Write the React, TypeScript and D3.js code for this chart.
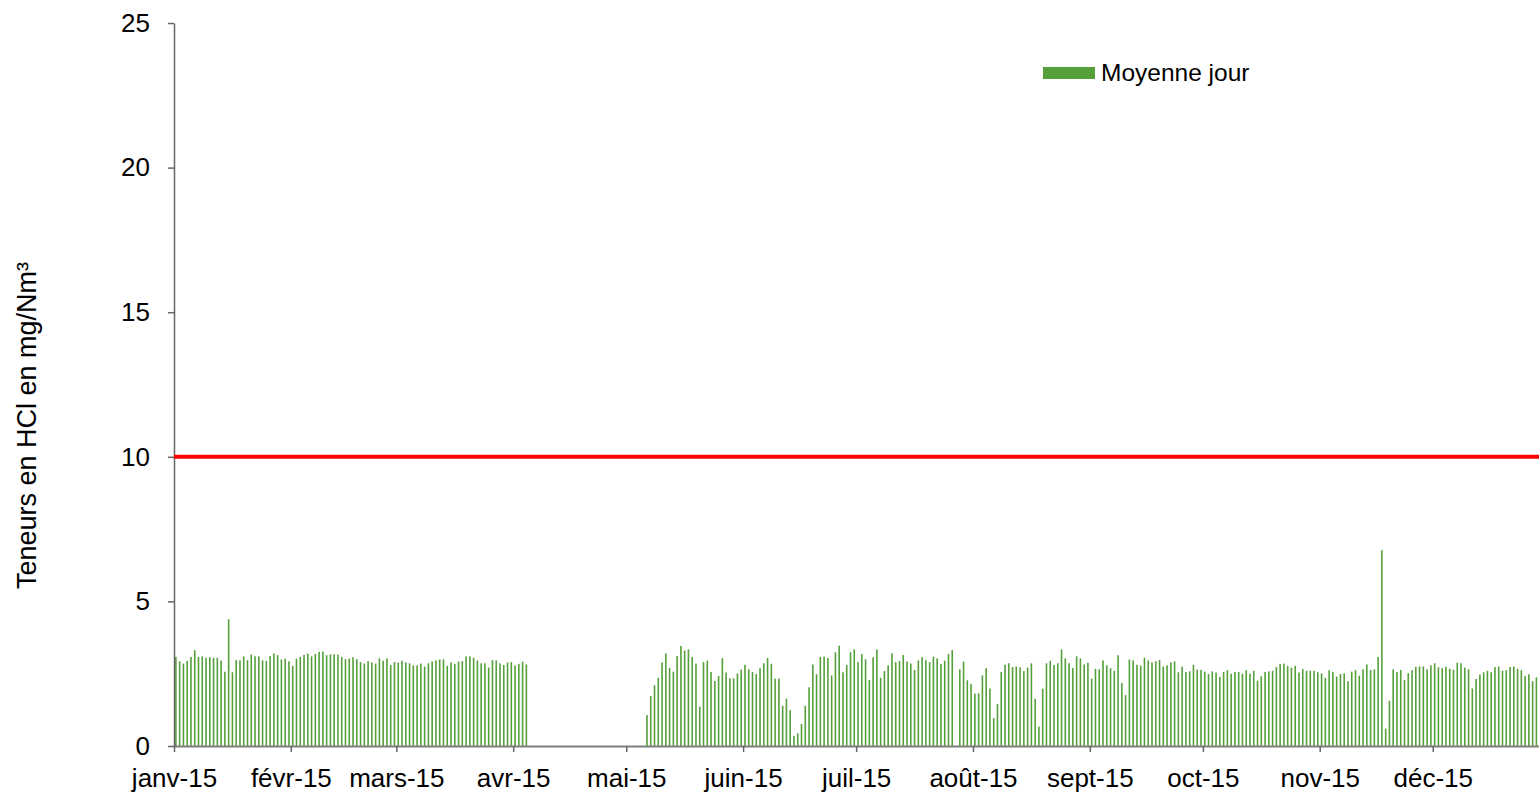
import { useRef, useEffect } from 'react';
import * as d3 from 'd3';

const WIDTH = 1539;
const HEIGHT = 792;
const MARGIN = { top: 23, left: 174, bottom: 46 };
const FONT = "Arial, 'Liberation Sans', sans-serif";
const BAR_COLOR = '#55a03a';

// daily averages (mg/Nm3), one value per day, null = no measure
const jan = [3.08, 2.93, 2.85, 2.94, 3.08, 3.31, 3.08, 3.10, 3.05, 3.07, 3.05, 3.05, 2.96, 2.57, 4.38, 2.55,
  2.97, 2.96, 3.10, 2.97, 3.16, 3.10, 3.10, 2.96, 2.94, 3.11, 3.20, 3.14, 2.99, 3.02, 2.93];
const feb = [2.77, 3.02, 3.08, 3.15, 3.19, 3.10, 3.18, 3.26, 3.27, 3.14, 3.17, 3.17, 3.16, 3.08, 3.00, 3.02,
  3.07, 3.00, 2.90, 2.85, 2.93, 2.89, 2.85, 3.03, 2.95, 3.03, 2.80, 2.90];
const mar = [2.88, 2.95, 2.89, 2.86, 2.79, 2.79, 2.85, 2.75, 2.86, 2.92, 2.96, 2.99, 3.00, 2.77, 2.89, 2.84,
  2.92, 2.93, 3.10, 3.10, 3.05, 2.96, 2.86, 2.86, 2.71, 2.97, 2.96, 2.86, 2.80, 2.89, 2.90];
const apr = [2.79, 2.84, 2.92, 2.82, null, null, null, null, null, null, null, null, null, null, null, null,
  null, null, null, null, null, null, null, null, null, null, null, null, null, null];
const may = [null, null, null, null, null, 1.07, 1.73, 2.10, 2.36, 2.89, 3.20, 2.70, 2.57, 3.11, 3.46, 3.30,
  3.34, 3.08, 2.85, 1.36, 2.90, 2.95, 2.56, 2.25, 2.42, 3.04, 2.54, 2.34, 2.34, 2.51, 2.64];
const jun = [2.81, 2.65, 2.56, 2.49, 2.69, 2.86, 3.04, 2.84, 2.33, 2.33, 1.39, 1.64, 1.24, 0.35, 0.44, 0.76,
  1.39, 2.03, 2.82, 2.48, 3.08, 3.09, 3.04, 2.44, 3.24, 3.47, 2.55, 2.80, 3.24, 3.34];
const jul = [2.90, 3.18, 3.00, 2.28, 3.07, 3.34, 2.36, 2.59, 2.79, 3.20, 2.90, 2.94, 3.15, 2.92, 2.85, 2.63,
  2.96, 3.07, 2.97, 2.90, 3.09, 3.03, 2.84, 2.95, 3.18, 3.32, null, 2.65, 2.92, 2.27, 2.14];
const aug = [1.81, 1.82, 2.44, 2.69, 1.99, 0.96, 1.45, 2.56, 2.81, 2.86, 2.73, 2.75, 2.72, 2.59, 2.71, 2.86,
  1.63, 0.67, 1.98, 2.86, 2.95, 2.80, 2.86, 3.34, 3.03, 2.86, 2.70, 3.10, 3.03, 2.82, 2.88];
const sep = [2.33, 2.67, 2.65, 2.96, 2.79, 2.69, 2.60, 3.14, 2.18, 1.76, 2.99, 2.96, 2.81, 2.78, 3.05, 2.96,
  2.89, 2.93, 2.97, 2.75, 2.79, 2.89, 2.93, 2.55, 2.74, 2.56, 2.58, 2.81, 2.64, 2.63];
const oct = [2.57, 2.49, 2.58, 2.54, 2.39, 2.56, 2.62, 2.50, 2.56, 2.56, 2.50, 2.62, 2.50, 2.60, 2.26, 2.41,
  2.56, 2.58, 2.60, 2.73, 2.84, 2.85, 2.77, 2.71, 2.77, 2.54, 2.66, 2.60, 2.60, 2.60, 2.55];
const nov = [2.51, 2.36, 2.62, 2.56, 2.40, 2.49, 2.51, 2.24, 2.57, 2.62, 2.43, 2.65, 2.82, 2.63, 2.65, 3.08,
  6.77, 0.60, 1.56, 2.65, 2.56, 2.63, 2.28, 2.52, 2.62, 2.74, 2.75, 2.75, 2.65, 2.79];
const dec = [2.86, 2.72, 2.69, 2.74, 2.67, 2.64, 2.88, 2.86, 2.71, 2.65, 1.99, 2.32, 2.47, 2.55, 2.60, 2.55,
  2.73, 2.75, 2.60, 2.62, 2.73, 2.75, 2.67, 2.62, 2.42, 2.48, 2.24, 2.37];

const months = [jan, feb, mar, apr, may, jun, jul, aug, sep, oct, nov, dec];
const monthLabels = ['janv-15', 'févr-15', 'mars-15', 'avr-15', 'mai-15', 'juin-15',
  'juil-15', 'août-15', 'sept-15', 'oct-15', 'nov-15', 'déc-15'];
const yTicks = [0, 5, 10, 15, 20, 25];
const LIMIT = 10;
const seriesName = 'Moyenne jour';
const yTitle = 'Teneurs en HCl en mg/Nm³';

export default function App() {
  const svgRef = useRef(null);

  useEffect(() => {
    const svg = d3.select(svgRef.current);
    svg.selectAll('*').remove();

    const data = months.flatMap((vals, m) =>
      vals.map((v, d) => ({ date: new Date(2015, m, d + 1), value: v })))
      .filter(d => d.value != null);

    // the plot runs a little past the right edge of the picture
    const x = d3.scaleTime()
      .domain([new Date(2015, 0, 1), new Date(2016, 0, 1)])
      .range([MARGIN.left, 1549.6]);
    const y = d3.scaleLinear().domain([0, 25]).range([HEIGHT - MARGIN.bottom, MARGIN.top]);
    const dayW = x(new Date(2015, 0, 2)) - x(new Date(2015, 0, 1));

    // bars
    svg.append('g').selectAll('rect').data(data).join('rect')
      .attr('x', d => x(d.date) + dayW / 2 - 0.8)
      .attr('y', d => y(d.value))
      .attr('width', 1.6)
      .attr('height', d => y(0) - y(d.value))
      .attr('fill', BAR_COLOR);

    // y axis
    const ya = svg.append('g').attr('transform', `translate(${MARGIN.left},0)`)
      .call(d3.axisLeft(y).tickValues(yTicks).tickSize(6).tickSizeOuter(0).tickPadding(18));
    ya.select('.domain').attr('stroke', '#666').attr('stroke-width', 1.5);
    ya.selectAll('line').attr('stroke', '#666').attr('stroke-width', 1.5);
    ya.selectAll('text').attr('font-size', 26).attr('font-family', FONT).attr('fill', '#000');

    // x axis
    const monthStarts = monthLabels.map((_, i) => new Date(2015, i, 1));
    const xa = svg.append('g').attr('transform', `translate(0,${y(0)})`)
      .call(d3.axisBottom(x).tickValues(monthStarts).tickSize(6).tickSizeOuter(0)
        .tickFormat((_, i) => monthLabels[i]));
    xa.select('.domain').attr('stroke', '#7f7f7f').attr('stroke-width', 2);
    xa.selectAll('line').attr('stroke', '#666').attr('stroke-width', 1.5);
    xa.selectAll('text').attr('y', 41).attr('dy', 0)
      .attr('font-size', 26).attr('font-family', FONT).attr('fill', '#000');

    // limit line
    svg.append('line')
      .attr('x1', MARGIN.left).attr('x2', WIDTH)
      .attr('y1', y(LIMIT)).attr('y2', y(LIMIT))
      .attr('stroke', '#ff0000').attr('stroke-width', 4);

    // y title
    svg.append('text')
      .attr('transform', `translate(36,${(y(0) + y(25)) / 2 + 41}) rotate(-90)`)
      .attr('text-anchor', 'middle')
      .attr('font-size', 27).attr('font-family', FONT).attr('fill', '#000')
      .text(yTitle);

    // legend
    const legend = svg.append('g').attr('transform', 'translate(1043,67)');
    legend.append('rect').attr('width', 52).attr('height', 12).attr('fill', BAR_COLOR);
    legend.append('text').attr('x', 58).attr('y', 14)
      .attr('font-size', 24.5).attr('font-family', FONT).attr('fill', '#000')
      .text(seriesName);
  }, []);

  return (
    <svg ref={svgRef} width={WIDTH} height={HEIGHT}
      style={{ position: 'absolute', left: 0, top: 0, background: '#fff' }} />
  );
}
